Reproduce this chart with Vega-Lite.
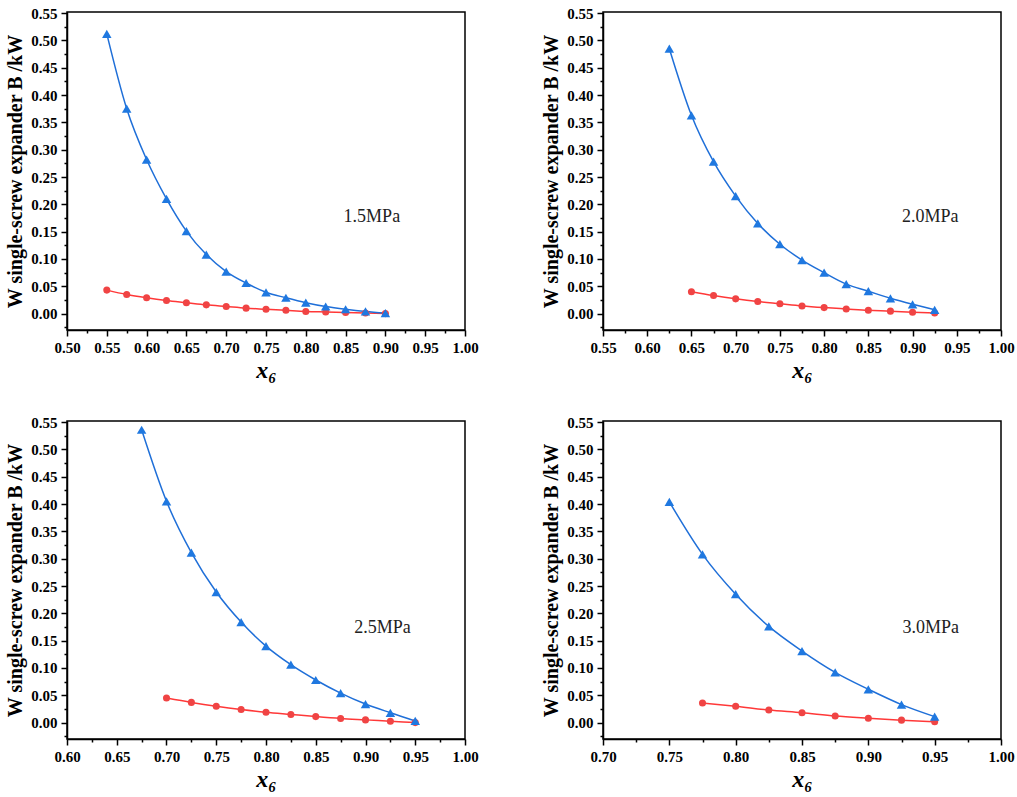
{
  "$schema": "https://vega.github.io/schema/vega-lite/v6.json",
  "background": "white",
  "datasets": {
    "curves": [
      {"pressure": "1.5MPa", "cycle": "Ⅰ -redesigned cycle", "x6": 0.55, "W": 0.043},
      {"pressure": "1.5MPa", "cycle": "Ⅰ -redesigned cycle", "x6": 0.575, "W": 0.035},
      {"pressure": "1.5MPa", "cycle": "Ⅰ -redesigned cycle", "x6": 0.6, "W": 0.029},
      {"pressure": "1.5MPa", "cycle": "Ⅰ -redesigned cycle", "x6": 0.625, "W": 0.024},
      {"pressure": "1.5MPa", "cycle": "Ⅰ -redesigned cycle", "x6": 0.65, "W": 0.02},
      {"pressure": "1.5MPa", "cycle": "Ⅰ -redesigned cycle", "x6": 0.675, "W": 0.016},
      {"pressure": "1.5MPa", "cycle": "Ⅰ -redesigned cycle", "x6": 0.7, "W": 0.013},
      {"pressure": "1.5MPa", "cycle": "Ⅰ -redesigned cycle", "x6": 0.725, "W": 0.01},
      {"pressure": "1.5MPa", "cycle": "Ⅰ -redesigned cycle", "x6": 0.75, "W": 0.008},
      {"pressure": "1.5MPa", "cycle": "Ⅰ -redesigned cycle", "x6": 0.775, "W": 0.006},
      {"pressure": "1.5MPa", "cycle": "Ⅰ -redesigned cycle", "x6": 0.8, "W": 0.004},
      {"pressure": "1.5MPa", "cycle": "Ⅰ -redesigned cycle", "x6": 0.825, "W": 0.003},
      {"pressure": "1.5MPa", "cycle": "Ⅰ -redesigned cycle", "x6": 0.85, "W": 0.002},
      {"pressure": "1.5MPa", "cycle": "Ⅰ -redesigned cycle", "x6": 0.875, "W": 0.001},
      {"pressure": "1.5MPa", "cycle": "Ⅰ -redesigned cycle", "x6": 0.9, "W": 0.0},
      {"pressure": "1.5MPa", "cycle": "Ⅱ -redesigned cycle", "x6": 0.55, "W": 0.512},
      {"pressure": "1.5MPa", "cycle": "Ⅱ -redesigned cycle", "x6": 0.575, "W": 0.375},
      {"pressure": "1.5MPa", "cycle": "Ⅱ -redesigned cycle", "x6": 0.6, "W": 0.282},
      {"pressure": "1.5MPa", "cycle": "Ⅱ -redesigned cycle", "x6": 0.625, "W": 0.21},
      {"pressure": "1.5MPa", "cycle": "Ⅱ -redesigned cycle", "x6": 0.65, "W": 0.151},
      {"pressure": "1.5MPa", "cycle": "Ⅱ -redesigned cycle", "x6": 0.675, "W": 0.108},
      {"pressure": "1.5MPa", "cycle": "Ⅱ -redesigned cycle", "x6": 0.7, "W": 0.077},
      {"pressure": "1.5MPa", "cycle": "Ⅱ -redesigned cycle", "x6": 0.725, "W": 0.056},
      {"pressure": "1.5MPa", "cycle": "Ⅱ -redesigned cycle", "x6": 0.75, "W": 0.039},
      {"pressure": "1.5MPa", "cycle": "Ⅱ -redesigned cycle", "x6": 0.775, "W": 0.029},
      {"pressure": "1.5MPa", "cycle": "Ⅱ -redesigned cycle", "x6": 0.8, "W": 0.02},
      {"pressure": "1.5MPa", "cycle": "Ⅱ -redesigned cycle", "x6": 0.825, "W": 0.013},
      {"pressure": "1.5MPa", "cycle": "Ⅱ -redesigned cycle", "x6": 0.85, "W": 0.008},
      {"pressure": "1.5MPa", "cycle": "Ⅱ -redesigned cycle", "x6": 0.875, "W": 0.004},
      {"pressure": "1.5MPa", "cycle": "Ⅱ -redesigned cycle", "x6": 0.9, "W": 0.001},
      {"pressure": "2.0MPa", "cycle": "Ⅰ -redesigned cycle", "x6": 0.65, "W": 0.04},
      {"pressure": "2.0MPa", "cycle": "Ⅰ -redesigned cycle", "x6": 0.675, "W": 0.033},
      {"pressure": "2.0MPa", "cycle": "Ⅰ -redesigned cycle", "x6": 0.7, "W": 0.027},
      {"pressure": "2.0MPa", "cycle": "Ⅰ -redesigned cycle", "x6": 0.725, "W": 0.022},
      {"pressure": "2.0MPa", "cycle": "Ⅰ -redesigned cycle", "x6": 0.75, "W": 0.018},
      {"pressure": "2.0MPa", "cycle": "Ⅰ -redesigned cycle", "x6": 0.775, "W": 0.014},
      {"pressure": "2.0MPa", "cycle": "Ⅰ -redesigned cycle", "x6": 0.8, "W": 0.011},
      {"pressure": "2.0MPa", "cycle": "Ⅰ -redesigned cycle", "x6": 0.825, "W": 0.0085},
      {"pressure": "2.0MPa", "cycle": "Ⅰ -redesigned cycle", "x6": 0.85, "W": 0.006},
      {"pressure": "2.0MPa", "cycle": "Ⅰ -redesigned cycle", "x6": 0.875, "W": 0.0045},
      {"pressure": "2.0MPa", "cycle": "Ⅰ -redesigned cycle", "x6": 0.9, "W": 0.0025},
      {"pressure": "2.0MPa", "cycle": "Ⅰ -redesigned cycle", "x6": 0.925, "W": 0.001},
      {"pressure": "2.0MPa", "cycle": "Ⅱ -redesigned cycle", "x6": 0.625, "W": 0.485},
      {"pressure": "2.0MPa", "cycle": "Ⅱ -redesigned cycle", "x6": 0.65, "W": 0.363},
      {"pressure": "2.0MPa", "cycle": "Ⅱ -redesigned cycle", "x6": 0.675, "W": 0.278},
      {"pressure": "2.0MPa", "cycle": "Ⅱ -redesigned cycle", "x6": 0.7, "W": 0.215},
      {"pressure": "2.0MPa", "cycle": "Ⅱ -redesigned cycle", "x6": 0.725, "W": 0.165},
      {"pressure": "2.0MPa", "cycle": "Ⅱ -redesigned cycle", "x6": 0.75, "W": 0.127},
      {"pressure": "2.0MPa", "cycle": "Ⅱ -redesigned cycle", "x6": 0.775, "W": 0.098},
      {"pressure": "2.0MPa", "cycle": "Ⅱ -redesigned cycle", "x6": 0.8, "W": 0.075},
      {"pressure": "2.0MPa", "cycle": "Ⅱ -redesigned cycle", "x6": 0.825, "W": 0.054},
      {"pressure": "2.0MPa", "cycle": "Ⅱ -redesigned cycle", "x6": 0.85, "W": 0.041},
      {"pressure": "2.0MPa", "cycle": "Ⅱ -redesigned cycle", "x6": 0.875, "W": 0.028},
      {"pressure": "2.0MPa", "cycle": "Ⅱ -redesigned cycle", "x6": 0.9, "W": 0.017},
      {"pressure": "2.0MPa", "cycle": "Ⅱ -redesigned cycle", "x6": 0.925, "W": 0.007},
      {"pressure": "2.5MPa", "cycle": "Ⅰ -redesigned cycle", "x6": 0.7, "W": 0.045},
      {"pressure": "2.5MPa", "cycle": "Ⅰ -redesigned cycle", "x6": 0.725, "W": 0.037},
      {"pressure": "2.5MPa", "cycle": "Ⅰ -redesigned cycle", "x6": 0.75, "W": 0.03},
      {"pressure": "2.5MPa", "cycle": "Ⅰ -redesigned cycle", "x6": 0.775, "W": 0.024},
      {"pressure": "2.5MPa", "cycle": "Ⅰ -redesigned cycle", "x6": 0.8, "W": 0.019},
      {"pressure": "2.5MPa", "cycle": "Ⅰ -redesigned cycle", "x6": 0.825, "W": 0.015},
      {"pressure": "2.5MPa", "cycle": "Ⅰ -redesigned cycle", "x6": 0.85, "W": 0.011},
      {"pressure": "2.5MPa", "cycle": "Ⅰ -redesigned cycle", "x6": 0.875, "W": 0.0075},
      {"pressure": "2.5MPa", "cycle": "Ⅰ -redesigned cycle", "x6": 0.9, "W": 0.005},
      {"pressure": "2.5MPa", "cycle": "Ⅰ -redesigned cycle", "x6": 0.925, "W": 0.0025},
      {"pressure": "2.5MPa", "cycle": "Ⅰ -redesigned cycle", "x6": 0.95, "W": 0.0},
      {"pressure": "2.5MPa", "cycle": "Ⅱ -redesigned cycle", "x6": 0.675, "W": 0.536},
      {"pressure": "2.5MPa", "cycle": "Ⅱ -redesigned cycle", "x6": 0.7, "W": 0.405},
      {"pressure": "2.5MPa", "cycle": "Ⅱ -redesigned cycle", "x6": 0.725, "W": 0.311},
      {"pressure": "2.5MPa", "cycle": "Ⅱ -redesigned cycle", "x6": 0.75, "W": 0.239},
      {"pressure": "2.5MPa", "cycle": "Ⅱ -redesigned cycle", "x6": 0.775, "W": 0.184},
      {"pressure": "2.5MPa", "cycle": "Ⅱ -redesigned cycle", "x6": 0.8, "W": 0.14},
      {"pressure": "2.5MPa", "cycle": "Ⅱ -redesigned cycle", "x6": 0.825, "W": 0.106},
      {"pressure": "2.5MPa", "cycle": "Ⅱ -redesigned cycle", "x6": 0.85, "W": 0.078},
      {"pressure": "2.5MPa", "cycle": "Ⅱ -redesigned cycle", "x6": 0.875, "W": 0.054},
      {"pressure": "2.5MPa", "cycle": "Ⅱ -redesigned cycle", "x6": 0.9, "W": 0.034},
      {"pressure": "2.5MPa", "cycle": "Ⅱ -redesigned cycle", "x6": 0.925, "W": 0.018},
      {"pressure": "2.5MPa", "cycle": "Ⅱ -redesigned cycle", "x6": 0.95, "W": 0.003},
      {"pressure": "3.0MPa", "cycle": "Ⅰ -redesigned cycle", "x6": 0.775, "W": 0.036},
      {"pressure": "3.0MPa", "cycle": "Ⅰ -redesigned cycle", "x6": 0.8, "W": 0.03},
      {"pressure": "3.0MPa", "cycle": "Ⅰ -redesigned cycle", "x6": 0.825, "W": 0.023},
      {"pressure": "3.0MPa", "cycle": "Ⅰ -redesigned cycle", "x6": 0.85, "W": 0.018},
      {"pressure": "3.0MPa", "cycle": "Ⅰ -redesigned cycle", "x6": 0.875, "W": 0.012},
      {"pressure": "3.0MPa", "cycle": "Ⅰ -redesigned cycle", "x6": 0.9, "W": 0.008},
      {"pressure": "3.0MPa", "cycle": "Ⅰ -redesigned cycle", "x6": 0.925, "W": 0.0045},
      {"pressure": "3.0MPa", "cycle": "Ⅰ -redesigned cycle", "x6": 0.95, "W": 0.0015},
      {"pressure": "3.0MPa", "cycle": "Ⅱ -redesigned cycle", "x6": 0.75, "W": 0.404},
      {"pressure": "3.0MPa", "cycle": "Ⅱ -redesigned cycle", "x6": 0.775, "W": 0.308},
      {"pressure": "3.0MPa", "cycle": "Ⅱ -redesigned cycle", "x6": 0.8, "W": 0.235},
      {"pressure": "3.0MPa", "cycle": "Ⅱ -redesigned cycle", "x6": 0.825, "W": 0.176},
      {"pressure": "3.0MPa", "cycle": "Ⅱ -redesigned cycle", "x6": 0.85, "W": 0.131},
      {"pressure": "3.0MPa", "cycle": "Ⅱ -redesigned cycle", "x6": 0.875, "W": 0.092},
      {"pressure": "3.0MPa", "cycle": "Ⅱ -redesigned cycle", "x6": 0.9, "W": 0.061},
      {"pressure": "3.0MPa", "cycle": "Ⅱ -redesigned cycle", "x6": 0.925, "W": 0.033},
      {"pressure": "3.0MPa", "cycle": "Ⅱ -redesigned cycle", "x6": 0.95, "W": 0.011},
      {"pressure": "1.5MPa", "cycle": "label", "x6": 0.883, "W": 0.176},
      {"pressure": "2.0MPa", "cycle": "label", "x6": 0.92, "W": 0.176},
      {"pressure": "2.5MPa", "cycle": "label", "x6": 0.917, "W": 0.1735},
      {"pressure": "3.0MPa", "cycle": "label", "x6": 0.947, "W": 0.1735}
    ]
  },
  "columns": 2,
  "spacing": {"row": 91, "column": 138},
  "bounds": "flush",
  "concat": [
    {
      "width": 398, "height": 318,
      "view": {"stroke": "black", "strokeWidth": 1.5},
      "layer": [
        {
          "data": {"name": "curves"},
          "transform": [{"filter": "datum.pressure === '1.5MPa' && datum.cycle !== 'label'"}],
          "mark": {"type": "line", "interpolate": "monotone", "strokeWidth": 1.5},
          "encoding": {
            "x": {"field": "x6", "type": "quantitative", "scale": {"domain": [0.5, 1.0], "nice": false, "zero": false},
              "axis": {"title": "x₆", "values": [0.5, 0.525, 0.55, 0.575, 0.6, 0.625, 0.65, 0.675, 0.7, 0.725, 0.75, 0.775, 0.8, 0.825, 0.85, 0.875, 0.9, 0.925, 0.95, 0.975, 1.0],
                "labelExpr": "round(datum.value * 40) % 2 === 0 ? format(datum.value, '.2f') : ''",
                "tickSize": {"condition": {"test": "round(datum.value * 40) % 2 !== 0", "value": 3}, "value": 6}}},
            "y": {"field": "W", "type": "quantitative", "scale": {"domain": [-0.03, 0.552], "nice": false, "zero": false},
              "axis": {"title": "W single-screw expander B /kW", "values": [-0.025, 0, 0.025, 0.05, 0.075, 0.1, 0.125, 0.15, 0.175, 0.2, 0.225, 0.25, 0.275, 0.3, 0.325, 0.35, 0.375, 0.4, 0.425, 0.45, 0.475, 0.5, 0.525, 0.55],
                "labelExpr": "round(datum.value * 40) % 2 === 0 ? format(datum.value, '.2f') : ''",
                "tickSize": {"condition": {"test": "round(datum.value * 40) % 2 !== 0", "value": 3}, "value": 6}}},
            "color": {"field": "cycle", "type": "nominal", "scale": {"domain": ["Ⅰ -redesigned cycle", "Ⅱ -redesigned cycle"], "range": ["#ff3838", "#1f6fd8"]}, "legend": null}
          }
        },
        {
          "data": {"name": "curves"},
          "transform": [{"filter": "datum.pressure === '1.5MPa' && datum.cycle === 'Ⅰ -redesigned cycle'"}],
          "mark": {"type": "circle", "size": 50, "color": "#f04444", "opacity": 1},
          "encoding": {"x": {"field": "x6", "type": "quantitative"}, "y": {"field": "W", "type": "quantitative"}}
        },
        {
          "data": {"name": "curves"},
          "transform": [{"filter": "datum.pressure === '1.5MPa' && datum.cycle === 'Ⅱ -redesigned cycle'"}],
          "mark": {"type": "point", "shape": "triangle-up", "filled": true, "size": 90, "color": "#1f78e0", "opacity": 1},
          "encoding": {"x": {"field": "x6", "type": "quantitative"}, "y": {"field": "W", "type": "quantitative"}}
        },
        {
          "data": {"name": "curves"},
          "transform": [{"filter": "datum.pressure === '1.5MPa' && datum.cycle !== 'label'"}],
          "mark": {"type": "point", "opacity": 0},
          "encoding": {
            "x": {"field": "x6", "type": "quantitative"}, "y": {"field": "W", "type": "quantitative"},
            "shape": {"field": "cycle", "type": "nominal",
              "scale": {"domain": ["Ⅰ -redesigned cycle", "Ⅱ -redesigned cycle"], "range": ["M-1,0H2.75M0.5,0A0.375,0.375,0,1,1,1.25,0A0.375,0.375,0,1,1,0.5,0Z", "M-1,0H2.75M0.875,-0.45L1.375,0.35L0.375,0.35Z"]},
              "legend": {"title": null, "orient": "none", "legendX": 228, "legendY": 4, "padding": 3, "symbolSize": 256, "labelOffset": 22, "symbolOpacity": 1,
                "encode": {"symbols": {"update": {
                  "fill": {"signal": "datum.value === 'Ⅰ -redesigned cycle' ? '#ff0000' : '#0000ff'"},
                  "stroke": {"signal": "datum.value === 'Ⅰ -redesigned cycle' ? '#ff0000' : '#0000ff'"},
                  "strokeWidth": {"value": 1.5}, "opacity": {"value": 1}}}}}}
          }
        },
        {
          "data": {"name": "curves"},
          "transform": [{"filter": "datum.pressure === '1.5MPa' && datum.cycle === 'label'"}],
          "mark": {"type": "text", "font": "Liberation Serif", "fontSize": 18, "color": "#222222"},
          "encoding": {"x": {"field": "x6", "type": "quantitative"}, "y": {"field": "W", "type": "quantitative"}, "text": {"field": "pressure", "type": "nominal"}}
        }
      ]
    },
    {
      "width": 398, "height": 318,
      "view": {"stroke": "black", "strokeWidth": 1.5},
      "layer": [
        {
          "data": {"name": "curves"},
          "transform": [{"filter": "datum.pressure === '2.0MPa' && datum.cycle !== 'label'"}],
          "mark": {"type": "line", "interpolate": "monotone", "strokeWidth": 1.5},
          "encoding": {
            "x": {"field": "x6", "type": "quantitative", "scale": {"domain": [0.55, 1.0], "nice": false, "zero": false},
              "axis": {"title": "x₆", "values": [0.55, 0.575, 0.6, 0.625, 0.65, 0.675, 0.7, 0.725, 0.75, 0.775, 0.8, 0.825, 0.85, 0.875, 0.9, 0.925, 0.95, 0.975, 1.0],
                "labelExpr": "round(datum.value * 40) % 2 === 0 ? format(datum.value, '.2f') : ''",
                "tickSize": {"condition": {"test": "round(datum.value * 40) % 2 !== 0", "value": 3}, "value": 6}}},
            "y": {"field": "W", "type": "quantitative", "scale": {"domain": [-0.03, 0.552], "nice": false, "zero": false},
              "axis": {"title": "W single-screw expander B /kW", "values": [-0.025, 0, 0.025, 0.05, 0.075, 0.1, 0.125, 0.15, 0.175, 0.2, 0.225, 0.25, 0.275, 0.3, 0.325, 0.35, 0.375, 0.4, 0.425, 0.45, 0.475, 0.5, 0.525, 0.55],
                "labelExpr": "round(datum.value * 40) % 2 === 0 ? format(datum.value, '.2f') : ''",
                "tickSize": {"condition": {"test": "round(datum.value * 40) % 2 !== 0", "value": 3}, "value": 6}}},
            "color": {"field": "cycle", "type": "nominal", "scale": {"domain": ["Ⅰ -redesigned cycle", "Ⅱ -redesigned cycle"], "range": ["#ff3838", "#1f6fd8"]}, "legend": null}
          }
        },
        {
          "data": {"name": "curves"},
          "transform": [{"filter": "datum.pressure === '2.0MPa' && datum.cycle === 'Ⅰ -redesigned cycle'"}],
          "mark": {"type": "circle", "size": 50, "color": "#f04444", "opacity": 1},
          "encoding": {"x": {"field": "x6", "type": "quantitative"}, "y": {"field": "W", "type": "quantitative"}}
        },
        {
          "data": {"name": "curves"},
          "transform": [{"filter": "datum.pressure === '2.0MPa' && datum.cycle === 'Ⅱ -redesigned cycle'"}],
          "mark": {"type": "point", "shape": "triangle-up", "filled": true, "size": 90, "color": "#1f78e0", "opacity": 1},
          "encoding": {"x": {"field": "x6", "type": "quantitative"}, "y": {"field": "W", "type": "quantitative"}}
        },
        {
          "data": {"name": "curves"},
          "transform": [{"filter": "datum.pressure === '2.0MPa' && datum.cycle !== 'label'"}],
          "mark": {"type": "point", "opacity": 0},
          "encoding": {
            "x": {"field": "x6", "type": "quantitative"}, "y": {"field": "W", "type": "quantitative"},
            "shape": {"field": "cycle", "type": "nominal",
              "scale": {"domain": ["Ⅰ -redesigned cycle", "Ⅱ -redesigned cycle"], "range": ["M-1,0H2.75M0.5,0A0.375,0.375,0,1,1,1.25,0A0.375,0.375,0,1,1,0.5,0Z", "M-1,0H2.75M0.875,-0.45L1.375,0.35L0.375,0.35Z"]},
              "legend": {"title": null, "orient": "none", "legendX": 764, "legendY": 4, "padding": 3, "symbolSize": 256, "labelOffset": 22, "symbolOpacity": 1,
                "encode": {"symbols": {"update": {
                  "fill": {"signal": "datum.value === 'Ⅰ -redesigned cycle' ? '#ff0000' : '#0000ff'"},
                  "stroke": {"signal": "datum.value === 'Ⅰ -redesigned cycle' ? '#ff0000' : '#0000ff'"},
                  "strokeWidth": {"value": 1.5}, "opacity": {"value": 1}}}}}}
          }
        },
        {
          "data": {"name": "curves"},
          "transform": [{"filter": "datum.pressure === '2.0MPa' && datum.cycle === 'label'"}],
          "mark": {"type": "text", "font": "Liberation Serif", "fontSize": 18, "color": "#222222"},
          "encoding": {"x": {"field": "x6", "type": "quantitative"}, "y": {"field": "W", "type": "quantitative"}, "text": {"field": "pressure", "type": "nominal"}}
        }
      ]
    },
    {
      "width": 398, "height": 318,
      "view": {"stroke": "black", "strokeWidth": 1.5},
      "layer": [
        {
          "data": {"name": "curves"},
          "transform": [{"filter": "datum.pressure === '2.5MPa' && datum.cycle !== 'label'"}],
          "mark": {"type": "line", "interpolate": "monotone", "strokeWidth": 1.5},
          "encoding": {
            "x": {"field": "x6", "type": "quantitative", "scale": {"domain": [0.6, 1.0], "nice": false, "zero": false},
              "axis": {"title": "x₆", "values": [0.6, 0.625, 0.65, 0.675, 0.7, 0.725, 0.75, 0.775, 0.8, 0.825, 0.85, 0.875, 0.9, 0.925, 0.95, 0.975, 1.0],
                "labelExpr": "round(datum.value * 40) % 2 === 0 ? format(datum.value, '.2f') : ''",
                "tickSize": {"condition": {"test": "round(datum.value * 40) % 2 !== 0", "value": 3}, "value": 6}}},
            "y": {"field": "W", "type": "quantitative", "scale": {"domain": [-0.03, 0.552], "nice": false, "zero": false},
              "axis": {"title": "W single-screw expander B /kW", "values": [-0.025, 0, 0.025, 0.05, 0.075, 0.1, 0.125, 0.15, 0.175, 0.2, 0.225, 0.25, 0.275, 0.3, 0.325, 0.35, 0.375, 0.4, 0.425, 0.45, 0.475, 0.5, 0.525, 0.55],
                "labelExpr": "round(datum.value * 40) % 2 === 0 ? format(datum.value, '.2f') : ''",
                "tickSize": {"condition": {"test": "round(datum.value * 40) % 2 !== 0", "value": 3}, "value": 6}}},
            "color": {"field": "cycle", "type": "nominal", "scale": {"domain": ["Ⅰ -redesigned cycle", "Ⅱ -redesigned cycle"], "range": ["#ff3838", "#1f6fd8"]}, "legend": null}
          }
        },
        {
          "data": {"name": "curves"},
          "transform": [{"filter": "datum.pressure === '2.5MPa' && datum.cycle === 'Ⅰ -redesigned cycle'"}],
          "mark": {"type": "circle", "size": 50, "color": "#f04444", "opacity": 1},
          "encoding": {"x": {"field": "x6", "type": "quantitative"}, "y": {"field": "W", "type": "quantitative"}}
        },
        {
          "data": {"name": "curves"},
          "transform": [{"filter": "datum.pressure === '2.5MPa' && datum.cycle === 'Ⅱ -redesigned cycle'"}],
          "mark": {"type": "point", "shape": "triangle-up", "filled": true, "size": 90, "color": "#1f78e0", "opacity": 1},
          "encoding": {"x": {"field": "x6", "type": "quantitative"}, "y": {"field": "W", "type": "quantitative"}}
        },
        {
          "data": {"name": "curves"},
          "transform": [{"filter": "datum.pressure === '2.5MPa' && datum.cycle !== 'label'"}],
          "mark": {"type": "point", "opacity": 0},
          "encoding": {
            "x": {"field": "x6", "type": "quantitative"}, "y": {"field": "W", "type": "quantitative"},
            "shape": {"field": "cycle", "type": "nominal",
              "scale": {"domain": ["Ⅰ -redesigned cycle", "Ⅱ -redesigned cycle"], "range": ["M-1,0H2.75M0.5,0A0.375,0.375,0,1,1,1.25,0A0.375,0.375,0,1,1,0.5,0Z", "M-1,0H2.75M0.875,-0.45L1.375,0.35L0.375,0.35Z"]},
              "legend": {"title": null, "orient": "none", "legendX": 228, "legendY": 413, "padding": 3, "symbolSize": 256, "labelOffset": 22, "symbolOpacity": 1,
                "encode": {"symbols": {"update": {
                  "fill": {"signal": "datum.value === 'Ⅰ -redesigned cycle' ? '#ff0000' : '#0000ff'"},
                  "stroke": {"signal": "datum.value === 'Ⅰ -redesigned cycle' ? '#ff0000' : '#0000ff'"},
                  "strokeWidth": {"value": 1.5}, "opacity": {"value": 1}}}}}}
          }
        },
        {
          "data": {"name": "curves"},
          "transform": [{"filter": "datum.pressure === '2.5MPa' && datum.cycle === 'label'"}],
          "mark": {"type": "text", "font": "Liberation Serif", "fontSize": 18, "color": "#222222"},
          "encoding": {"x": {"field": "x6", "type": "quantitative"}, "y": {"field": "W", "type": "quantitative"}, "text": {"field": "pressure", "type": "nominal"}}
        }
      ]
    },
    {
      "width": 398, "height": 318,
      "view": {"stroke": "black", "strokeWidth": 1.5},
      "layer": [
        {
          "data": {"name": "curves"},
          "transform": [{"filter": "datum.pressure === '3.0MPa' && datum.cycle !== 'label'"}],
          "mark": {"type": "line", "interpolate": "monotone", "strokeWidth": 1.5},
          "encoding": {
            "x": {"field": "x6", "type": "quantitative", "scale": {"domain": [0.7, 1.0], "nice": false, "zero": false},
              "axis": {"title": "x₆", "values": [0.7, 0.725, 0.75, 0.775, 0.8, 0.825, 0.85, 0.875, 0.9, 0.925, 0.95, 0.975, 1.0],
                "labelExpr": "round(datum.value * 40) % 2 === 0 ? format(datum.value, '.2f') : ''",
                "tickSize": {"condition": {"test": "round(datum.value * 40) % 2 !== 0", "value": 3}, "value": 6}}},
            "y": {"field": "W", "type": "quantitative", "scale": {"domain": [-0.03, 0.552], "nice": false, "zero": false},
              "axis": {"title": "W single-screw expander B /kW", "values": [-0.025, 0, 0.025, 0.05, 0.075, 0.1, 0.125, 0.15, 0.175, 0.2, 0.225, 0.25, 0.275, 0.3, 0.325, 0.35, 0.375, 0.4, 0.425, 0.45, 0.475, 0.5, 0.525, 0.55],
                "labelExpr": "round(datum.value * 40) % 2 === 0 ? format(datum.value, '.2f') : ''",
                "tickSize": {"condition": {"test": "round(datum.value * 40) % 2 !== 0", "value": 3}, "value": 6}}},
            "color": {"field": "cycle", "type": "nominal", "scale": {"domain": ["Ⅰ -redesigned cycle", "Ⅱ -redesigned cycle"], "range": ["#ff3838", "#1f6fd8"]}, "legend": null}
          }
        },
        {
          "data": {"name": "curves"},
          "transform": [{"filter": "datum.pressure === '3.0MPa' && datum.cycle === 'Ⅰ -redesigned cycle'"}],
          "mark": {"type": "circle", "size": 50, "color": "#f04444", "opacity": 1},
          "encoding": {"x": {"field": "x6", "type": "quantitative"}, "y": {"field": "W", "type": "quantitative"}}
        },
        {
          "data": {"name": "curves"},
          "transform": [{"filter": "datum.pressure === '3.0MPa' && datum.cycle === 'Ⅱ -redesigned cycle'"}],
          "mark": {"type": "point", "shape": "triangle-up", "filled": true, "size": 90, "color": "#1f78e0", "opacity": 1},
          "encoding": {"x": {"field": "x6", "type": "quantitative"}, "y": {"field": "W", "type": "quantitative"}}
        },
        {
          "data": {"name": "curves"},
          "transform": [{"filter": "datum.pressure === '3.0MPa' && datum.cycle !== 'label'"}],
          "mark": {"type": "point", "opacity": 0},
          "encoding": {
            "x": {"field": "x6", "type": "quantitative"}, "y": {"field": "W", "type": "quantitative"},
            "shape": {"field": "cycle", "type": "nominal",
              "scale": {"domain": ["Ⅰ -redesigned cycle", "Ⅱ -redesigned cycle"], "range": ["M-1,0H2.75M0.5,0A0.375,0.375,0,1,1,1.25,0A0.375,0.375,0,1,1,0.5,0Z", "M-1,0H2.75M0.875,-0.45L1.375,0.35L0.375,0.35Z"]},
              "legend": {"title": null, "orient": "none", "legendX": 764, "legendY": 415, "padding": 3, "symbolSize": 256, "labelOffset": 22, "symbolOpacity": 1,
                "encode": {"symbols": {"update": {
                  "fill": {"signal": "datum.value === 'Ⅰ -redesigned cycle' ? '#ff0000' : '#0000ff'"},
                  "stroke": {"signal": "datum.value === 'Ⅰ -redesigned cycle' ? '#ff0000' : '#0000ff'"},
                  "strokeWidth": {"value": 1.5}, "opacity": {"value": 1}}}}}}
          }
        },
        {
          "data": {"name": "curves"},
          "transform": [{"filter": "datum.pressure === '3.0MPa' && datum.cycle === 'label'"}],
          "mark": {"type": "text", "font": "Liberation Serif", "fontSize": 18, "color": "#222222"},
          "encoding": {"x": {"field": "x6", "type": "quantitative"}, "y": {"field": "W", "type": "quantitative"}, "text": {"field": "pressure", "type": "nominal"}}
        }
      ]
    }
  ],
  "config": {
    "view": {"stroke": "black", "strokeWidth": 1.5},
    "axis": {
      "grid": false, "tickCount": 100,
      "domainColor": "black", "domainWidth": 1.5,
      "tickColor": "black", "tickWidth": 1.5,
      "labelFont": "Liberation Serif", "labelFontWeight": "bold", "labelFontSize": 15, "labelColor": "black",
      "labelFlush": false, "labelOverlap": false, "labelPadding": 4,
      "titleFont": "Liberation Serif", "titleFontWeight": "bold", "titleColor": "black"
    },
    "axisX": {"titleFontSize": 24, "titleFontStyle": "italic", "titlePadding": 3},
    "axisY": {"titleFontSize": 20, "titlePadding": 5},
    "legend": {"labelFont": "Liberation Serif", "labelFontWeight": "bold", "labelFontSize": 14, "labelColor": "black", "rowPadding": 2,
      "strokeColor": "#555555", "fillColor": "white"}
  }
}
